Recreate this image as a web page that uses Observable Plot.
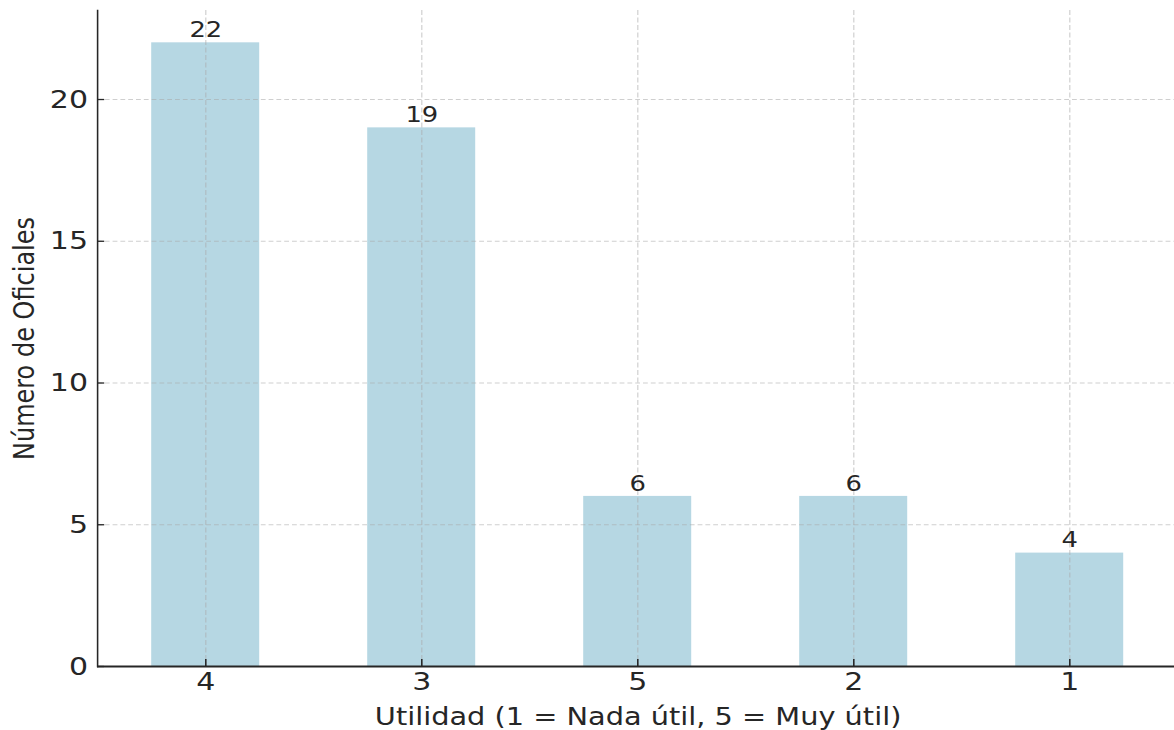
<!DOCTYPE html>
<html>
<head>
<meta charset="utf-8">
<script src="https://cdn.jsdelivr.net/npm/d3@7"></script>
<script src="https://cdn.jsdelivr.net/npm/@observablehq/plot@0.6"></script>
<style>
  html, body { margin: 0; padding: 0; background: #fff; }
  #chart svg { display: block; }
</style>
</head>
<body>
<div id="chart"></div>
<script>
const categories = ["4", "3", "5", "2", "1"];
const counts = [22, 19, 6, 6, 4];
const yTicks = [0, 5, 10, 15, 20];
const xLabel = "Utilidad (1 = Nada útil, 5 = Muy útil)";
const yLabel = "Número de Oficiales";

const data = categories.map((c, i) => ({cat: c, count: counts[i]}));

const S = 1.2;              // horizontal stretch of the reference
const W = 1174 / S;
const left = 97 / S;
const right = 1178 / S;
const ink = "#262626";

const chart = Plot.plot({
  width: W,
  height: 730,
  marginLeft: left,
  marginRight: W - right,
  marginTop: 10,
  marginBottom: 64,
  style: {fontFamily: "DejaVu Sans", color: ink, background: "#fff"},
  x: {type: "band", domain: categories, range: [left, right], paddingInner: 0.5, paddingOuter: 0.244},
  y: {domain: [0, 23.14], range: [666, 10]},
  marks: [
    Plot.barY(data, {x: "cat", y: "count", fill: "#b6d7e3"}),
    Plot.gridY({ticks: yTicks, stroke: "#a8a8a8", strokeOpacity: 0.55, strokeWidth: 1, strokeDasharray: "4,2.5"}),
    Plot.gridX({stroke: "#a8a8a8", strokeOpacity: 0.55, strokeWidth: 1, strokeDasharray: "5,2.5"}),
    Plot.ruleY([0], {stroke: ink, strokeWidth: 2}),
    Plot.frame({anchor: "left", stroke: ink, strokeWidth: 1.3}),
    Plot.axisY({ticks: yTicks, tickSize: 6, dx: 6, tickFormat: () => "", stroke: ink, strokeWidth: 1.3, label: null}),
    Plot.axisY({ticks: yTicks, tickSize: 0, tickPadding: 8, fontSize: 25, fill: ink, label: null}),
    Plot.axisX({tickSize: 7, dy: -7, tickFormat: () => "", stroke: ink, strokeWidth: 1.3, label: null}),
    Plot.axisX({tickSize: 0, tickPadding: 6, fontSize: 25, fill: ink, label: null}),
    Plot.text(data, {x: "cat", y: "count", text: d => String(d.count), dy: -12.5, fontSize: 21.5, fill: ink}),
    Plot.text([xLabel], {frameAnchor: "bottom", lineAnchor: "top", dy: 41, fontSize: 24, fill: ink}),
    Plot.text([yLabel], {frameAnchor: "left", textAnchor: "middle", rotate: -90, dx: -61, fontSize: 24, fill: ink})
  ]
});

chart.setAttribute("preserveAspectRatio", "none");
chart.setAttribute("width", 1174);
chart.setAttribute("height", 730);
chart.style.width = "1174px";
chart.style.height = "730px";
chart.style.maxWidth = "none";
document.getElementById("chart").appendChild(chart);
</script>
</body>
</html>
